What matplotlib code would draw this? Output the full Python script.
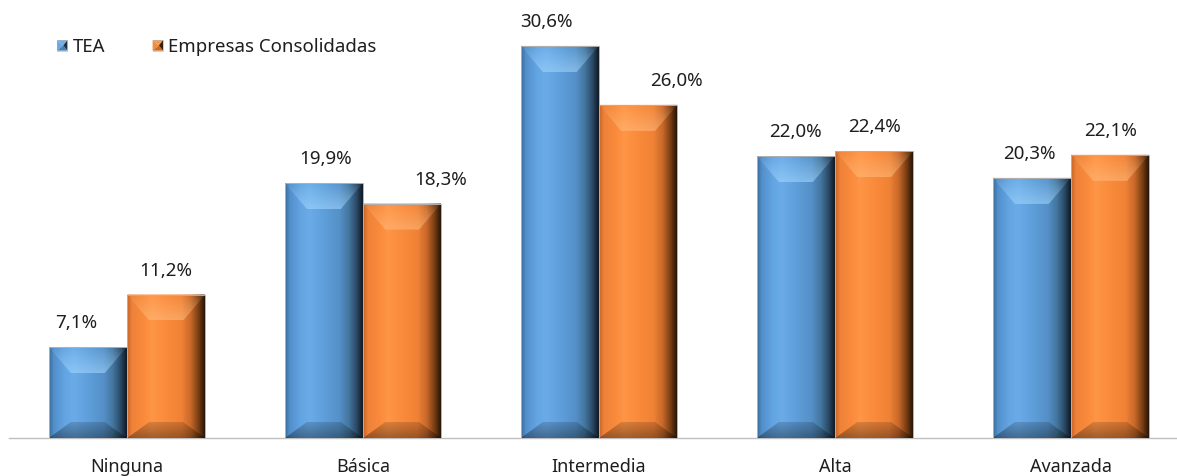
import numpy as np
import matplotlib
matplotlib.use('Agg')
import matplotlib.pyplot as plt
from matplotlib.patches import Polygon
from matplotlib.colors import to_rgb
from matplotlib.legend_handler import HandlerBase

# ---------------- data ----------------
categories = ['Ninguna', 'Básica', 'Intermedia', 'Alta', 'Avanzada']
tea = [7.1, 19.9, 30.6, 22.0, 20.3]
consolidadas = [11.2, 18.3, 26.0, 22.4, 22.1]
series_names = ['TEA', 'Empresas Consolidadas']

# label offsets (px) relative to bar top centre
tea_label_dx = [-12, 2, -13, 0, -2]
cons_label_dx = [0, 38, 38, 0, 0]
label_dy = 24

# ---------------- style ----------------
BLUE_PROFILE = [(0, '#3E6D9C'), (0.06, '#5290CB'), (0.2, '#63A4E2'), (0.32, '#6AABE8'),
                (0.5, '#5E9FDB'), (0.7, '#5590C8'), (0.82, '#44779F'), (0.92, '#2B4A68'),
                (1, '#101B26')]
ORANGE_PROFILE = [(0, '#C8652A'), (0.06, '#EE8238'), (0.2, '#F98A3C'), (0.32, '#FF9546'),
                  (0.5, '#FA8B3C'), (0.7, '#F08236'), (0.82, '#C8682A'), (0.92, '#7A3E14'),
                  (1, '#2A1608')]
BLUE_HI = '#A6DAFF'
ORANGE_HI = '#FFBE80'

plt.rcParams['font.family'] = ['Noto Sans', 'DejaVu Sans']

W, H, DPI = 1177, 476, 100
fig = plt.figure(figsize=(W / DPI, H / DPI), dpi=DPI)
ax_left_px, ax_w_px = 9, 1180
ax_bottom_px, ax_h_px = 38, 410
ax = fig.add_axes([ax_left_px / W, ax_bottom_px / H, ax_w_px / W, ax_h_px / H])
ax.set_xlim(-0.5, 4.5)
ax.set_ylim(0, 32)
sx = ax_w_px / 5.0     # px per x unit
sy = ax_h_px / 32.0    # px per y unit

x = np.arange(len(categories))
width = 0.33
bars_tea = ax.bar(x - 0.166, tea, width, color='#5B9BD5', zorder=2, linewidth=0)
bars_cons = ax.bar(x + 0.166, consolidadas, width, color='#F5873A', zorder=2, linewidth=0)


def profile(stops, n=96):
    pos = [s[0] for s in stops]
    cols = np.array([to_rgb(s[1]) for s in stops])
    t = np.linspace(0, 1, n)
    return np.stack([np.interp(t, pos, cols[:, k]) for k in range(3)], axis=-1)


def put(ax, img, extent, poly):
    im = ax.imshow(img, extent=extent, origin='lower', aspect='auto',
                   interpolation='bilinear', zorder=3)
    patch = Polygon(poly, closed=True, transform=ax.transData, facecolor='none', edgecolor='none')
    ax.add_patch(patch)
    im.set_clip_path(patch)


def bevel(ax, rect, stops, hi):
    x0 = rect.get_x()
    x1 = x0 + rect.get_width()
    h = rect.get_height()
    bl = 22 / sx
    bt = 26 / sy
    bb = 16 / sy
    ex, ey = 3 / sx, 3 / sy        # image overscan (clipped away)
    ix0, ix1, iy0, iy1 = x0 + bl, x1 - bl, bb, h - bt
    prof = profile(stops)                      # (n, 3)
    # body: horizontal profile over the whole bar
    put(ax, prof[np.newaxis, :, :], (x0, x1, -ey, h + ey),
        [(x0, 0), (x1, 0), (x1, h), (x0, h)])
    # top bevel: blend toward a light highlight colour, stronger near inner edge
    hc = np.array(to_rgb(hi))
    a = np.linspace(0.55, 0.0, 32)[:, None, None]    # row 0 = inner (lower) edge
    top = prof[None, :, :] * (1 - a) + hc[None, None, :] * a
    put(ax, np.clip(top, 0, 1), (x0, x1, iy1, h + ey),
        [(x0, h), (x1, h), (ix1, iy1), (ix0, iy1)])
    # bottom bevel: darken toward the base
    f = np.linspace(0.6, 0.85, 32)[:, None, None]    # row 0 = outer (base)
    bot = prof[None, :, :] * f
    put(ax, bot, (x0, x1, -ey, iy0), [(x0, 0), (x1, 0), (ix1, iy0), (ix0, iy0)])


for r in bars_tea:
    bevel(ax, r, BLUE_PROFILE, BLUE_HI)
for r in bars_cons:
    bevel(ax, r, ORANGE_PROFILE, ORANGE_HI)

# thin outline
ax.bar(x - 0.166, tea, width, fill=False, edgecolor='#B0B0B0', linewidth=0.7, zorder=5)
ax.bar(x + 0.166, consolidadas, width, fill=False, edgecolor='#B0B0B0', linewidth=0.7, zorder=5)

ax.set_xlim(-0.5, 4.5)
ax.set_ylim(0, 32)

# value labels
for bars, vals, dxs in ((bars_tea, tea, tea_label_dx), (bars_cons, consolidadas, cons_label_dx)):
    for r, v, dx in zip(bars, vals, dxs):
        ax.annotate(f'{v:.1f}%'.replace('.', ','),
                    (r.get_x() + r.get_width() / 2, r.get_height()),
                    xytext=(dx * 0.72, label_dy * 0.72), textcoords='offset points',
                    ha='center', va='center', fontsize=13.5, color='#1E1E1E', zorder=6)

# axes styling
for s in ('top', 'left', 'right'):
    ax.spines[s].set_visible(False)
ax.spines['bottom'].set_color('#BFBFBF')
ax.spines['bottom'].set_linewidth(1.0)
ax.set_yticks([])
ax.set_xticks(x)
ax.set_xticklabels(categories, fontsize=13, color='#1E1E1E')
ax.tick_params(axis='x', length=0, pad=14.5)


# legend with beveled square handles
class BevelHandler(HandlerBase):
    def __init__(self, cols):
        super().__init__()
        self.cols = cols

    def create_artists(self, legend, orig_handle, xdescent, ydescent, width, height, fontsize, trans):
        s = min(width, height * 1.0)
        cx = -xdescent + width / 2
        cy = -ydescent + height / 2
        x0, x1 = cx - s / 2, cx + s / 2
        y0, y1 = cy - s / 2, cy + s / 2
        c = (cx + s * 0.1, cy)
        top, left, bottom, right = self.cols
        return [
            Polygon([(x0, y1), (x1, y1), c], closed=True, facecolor=top, edgecolor='none', transform=trans),
            Polygon([(x0, y0), (x0, y1), c], closed=True, facecolor=left, edgecolor='none', transform=trans),
            Polygon([(x0, y0), (x1, y0), c], closed=True, facecolor=bottom, edgecolor='none', transform=trans),
            Polygon([(x1, y0), (x1, y1), c], closed=True, facecolor=right, edgecolor='none', transform=trans),
            Polygon([(x0, y0), (x1, y0), (x1, y1), (x0, y1)], closed=True, facecolor='none',
                    edgecolor='#A8A8A8', linewidth=0.4, transform=trans),
        ]


h1 = bars_tea[0]
h2 = bars_cons[0]
leg = ax.legend([h1, h2], series_names,
                handler_map={h1: BevelHandler(('#6FAEE6', '#69A9E3', '#4A7FB3', '#1C3045')),
                             h2: BevelHandler(('#F59A50', '#F08B40', '#C86A28', '#3A200A'))},
                loc='upper left', bbox_to_anchor=(57 / W, 1 - 38 / H), bbox_transform=fig.transFigure,
                ncol=2, frameon=False, fontsize=13.4, handlelength=0.56, handleheight=0.56,
                handletextpad=0.28, columnspacing=2.55, borderpad=0, borderaxespad=0)
for t in leg.get_texts():
    t.set_color('#1E1E1E')

fig.savefig('out.png', dpi=DPI)
